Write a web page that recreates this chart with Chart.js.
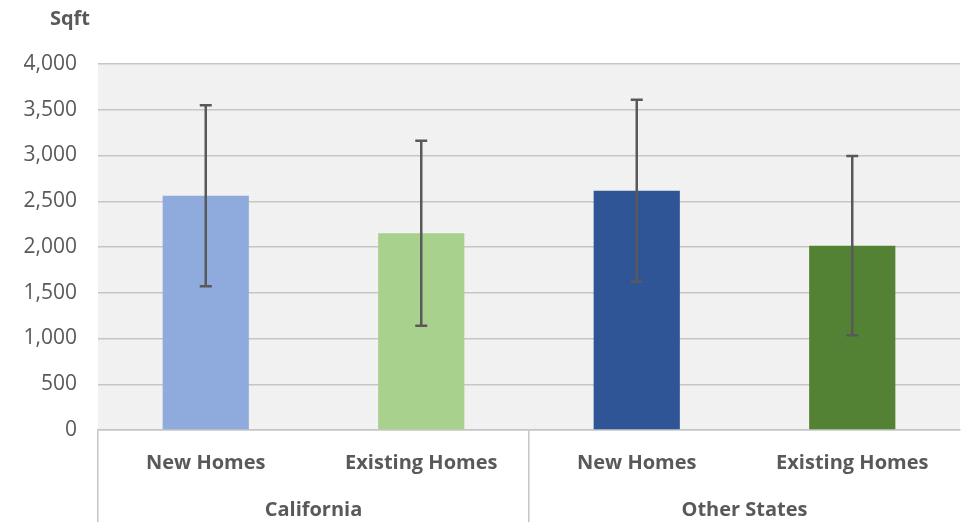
<!DOCTYPE html>
<html>
<head>
<meta charset="utf-8">
<script src="https://cdn.jsdelivr.net/npm/chart.js@4.4.1/dist/chart.umd.min.js"></script>
<style>
  html, body { margin: 0; padding: 0; background: #ffffff; }
  #wrap { width: 967px; height: 522px; position: relative; }
</style>
</head>
<body>
<div id="wrap"><canvas id="sqftChart"></canvas></div>
<script>
// Datos del gráfico
const homeTypes = ['New Homes', 'Existing Homes', 'New Homes', 'Existing Homes'];
const regions = ['California', 'Other States'];
const avgSqft = [2560, 2150, 2615, 2015];
const stdDev = [990, 1010, 995, 980];
const barColors = ['#8faadc', '#a9d18e', '#2f5597', '#548235'];
const yTicks = [0, 500, 1000, 1500, 2000, 2500, 3000, 3500, 4000];

const textColor = '#595959';
const fontFamily = "'Open Sans', 'Noto Sans', sans-serif";

// Fondo punteado del área del gráfico
function makePattern() {
    const c = document.createElement('canvas');
    c.width = 4; c.height = 4;
    const g = c.getContext('2d');
    g.fillStyle = '#f0f0f0';
    g.fillRect(0, 0, 4, 4);
    g.fillStyle = '#fafafa';
    g.fillRect(0, 0, 1, 1);
    g.fillRect(2, 2, 1, 1);
    return c;
}

const plotBackground = {
    id: 'plotBackground',
    beforeDraw(chart) {
        const { ctx, chartArea } = chart;
        ctx.save();
        ctx.fillStyle = ctx.createPattern(makePattern(), 'repeat');
        ctx.fillRect(chartArea.left, chartArea.top, chartArea.right - chartArea.left, chartArea.bottom - chartArea.top);
        ctx.restore();
    }
};

// Barras de error (± desviación)
const errorBars = {
    id: 'errorBars',
    afterDatasetsDraw(chart) {
        const { ctx } = chart;
        const yScale = chart.scales.y;
        const meta = chart.getDatasetMeta(0);
        ctx.save();
        ctx.strokeStyle = '#595959';
        ctx.lineWidth = 2.5;
        meta.data.forEach((bar, i) => {
            const top = yScale.getPixelForValue(avgSqft[i] + stdDev[i]);
            const bottom = yScale.getPixelForValue(avgSqft[i] - stdDev[i]);
            const cap = 6;
            ctx.beginPath();
            ctx.moveTo(bar.x, top);
            ctx.lineTo(bar.x, bottom);
            ctx.moveTo(bar.x - cap, top);
            ctx.lineTo(bar.x + cap, top);
            ctx.moveTo(bar.x - cap, bottom);
            ctx.lineTo(bar.x + cap, bottom);
            ctx.stroke();
        });
        ctx.restore();
    }
};

// Título del eje Y
const axisTitle = {
    id: 'axisTitle',
    afterDraw(chart) {
        const { ctx, chartArea } = chart;
        ctx.save();
        ctx.font = 'bold 20px ' + fontFamily;
        ctx.fillStyle = textColor;
        ctx.textAlign = 'right';
        ctx.textBaseline = 'middle';
        ctx.fillText('Sqft', chartArea.left - 8, 19);
        ctx.restore();
    }
};

new Chart(document.getElementById('sqftChart'), {
    type: 'bar',
    data: {
        labels: homeTypes,
        datasets: [{
            label: 'Sqft',
            data: avgSqft,
            backgroundColor: barColors,
            borderWidth: 0,
            barPercentage: 0.4,
            categoryPercentage: 1
        }]
    },
    options: {
        responsive: true,
        maintainAspectRatio: false,
        animation: false,
        layout: {
            padding: { top: 64, right: 7, bottom: 2, left: 0 }
        },
        plugins: {
            legend: { display: false },
            tooltip: { enabled: false }
        },
        scales: {
            y: {
                min: 0,
                max: 4000,
                afterBuildTicks(scale) {
                    scale.ticks = yTicks.map(v => ({ value: v }));
                },
                afterFit(scale) {
                    scale.width = 98;
                },
                grid: {
                    color: '#c6c6c6',
                    lineWidth: 1.5,
                    drawTicks: false
                },
                border: { display: false },
                ticks: {
                    color: textColor,
                    padding: 21,
                    font: { family: fontFamily, size: 21 },
                    callback: v => v.toLocaleString('en-US')
                }
            },
            x: {
                position: 'bottom',
                weight: 0,
                grid: {
                    offset: true,
                    drawOnChartArea: false,
                    tickLength: 92,
                    lineWidth: 1.5,
                    color: ctx => (ctx.index % 2 === 0 ? '#c6c6c6' : 'rgba(0,0,0,0)')
                },
                border: { display: true, color: '#c6c6c6', width: 1.5 },
                ticks: {
                    color: textColor,
                    padding: -71,
                    maxRotation: 0,
                    autoSkip: false,
                    font: { family: fontFamily, size: 20, weight: 'bold' }
                },
                afterFit(scale) {
                    scale.height = 45;
                }
            },
            x2: {
                type: 'category',
                position: 'bottom',
                weight: 1,
                labels: regions,
                offset: true,
                grid: { display: false },
                border: { display: false },
                ticks: {
                    color: textColor,
                    padding: 15,
                    maxRotation: 0,
                    font: { family: fontFamily, size: 20, weight: 'bold' }
                },
                afterFit(scale) {
                    scale.height = 45;
                }
            }
        }
    },
    plugins: [plotBackground, errorBars, axisTitle]
});
</script>
</body>
</html>
